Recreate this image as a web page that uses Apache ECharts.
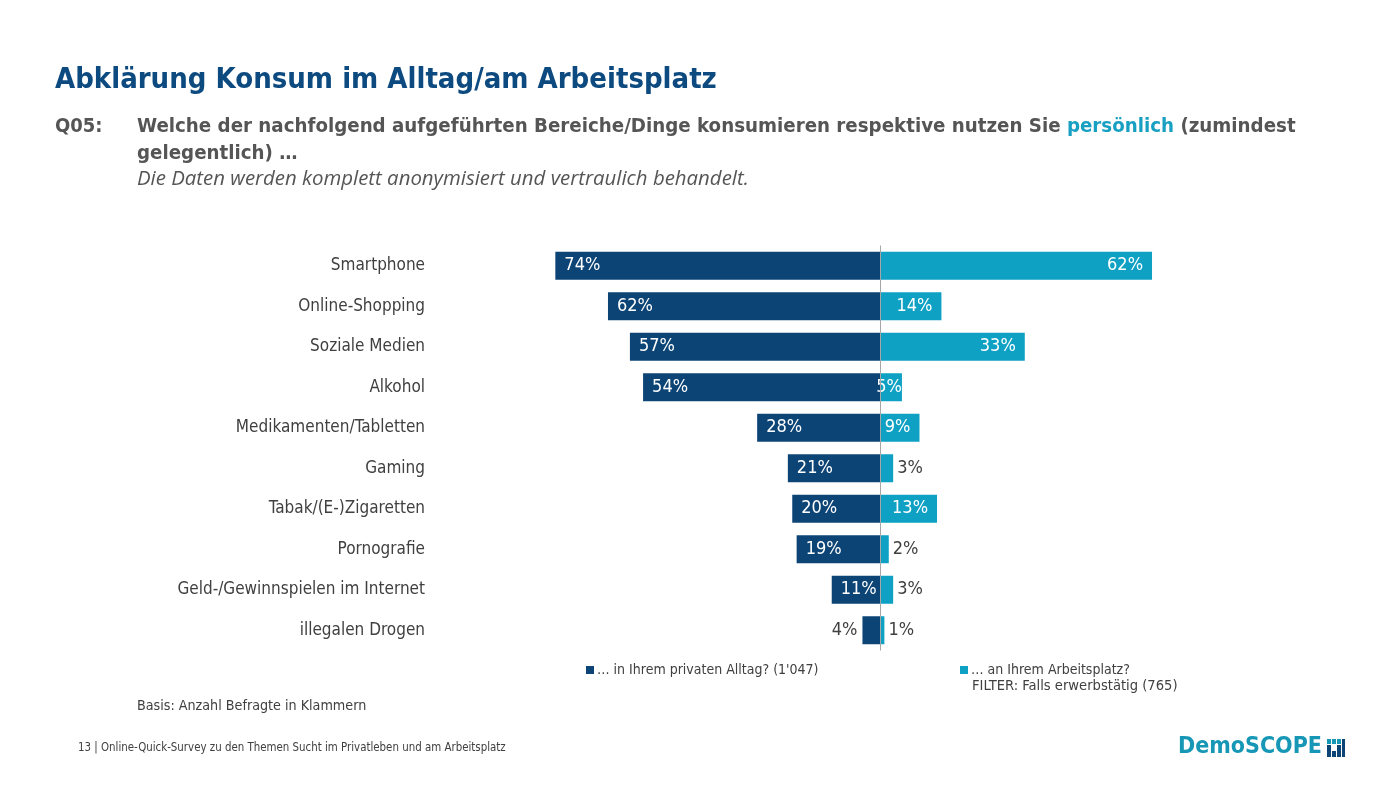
<!DOCTYPE html>
<html lang="de">
<head>
    <meta charset="UTF-8">
    <title>Abklärung Konsum im Alltag/am Arbeitsplatz</title>
    <script src="https://cdn.jsdelivr.net/npm/echarts@6/dist/echarts.min.js"></script>
    <style>
        html, body { margin: 0; padding: 0; background: #fff; }
        #chart { width: 1400px; height: 787px; }
    </style>
</head>
<body>
<div id="chart"></div>
<script type="text/javascript">

// Daten
var kategorien = ['Smartphone', 'Online-Shopping', 'Soziale Medien', 'Alkohol', 'Medikamenten/Tabletten',
    'Gaming', 'Tabak/(E-)Zigaretten', 'Pornografie', 'Geld-/Gewinnspielen im Internet', 'illegalen Drogen'];
var privat = [74, 62, 57, 54, 28, 21, 20, 19, 11, 4];
var arbeit = [62, 14, 33, 5, 9, 3, 13, 2, 3, 1];

var namePrivat = '… in Ihrem privaten Alltag? (1\'047)';
var nameArbeit = '… an Ihrem Arbeitsplatz?';

var dunkel = '#0c4475';
var hell = '#0fa1c4';
var grau = '#404040';
var font = 'DejaVu Sans Condensed';

var myChart = echarts.init(document.getElementById('chart'));

// linke Seite: negative Werte, Beschriftung innen links
var privatData = privat.map(function (v) {
    var innen = v >= 10;
    return {
        value: -v,
        label: {
            position: innen ? 'insideLeft' : 'left',
            distance: innen ? 9 : 5,
            color: innen ? '#fff' : grau
        }
    };
});

// rechte Seite
var arbeitData = arbeit.map(function (v) {
    var innen = v >= 5;
    return {
        value: v,
        label: {
            position: innen ? 'insideRight' : 'right',
            distance: innen ? (v < 8 ? 0 : 9) : 4,
            color: innen ? '#fff' : grau
        }
    };
});

var option = {
    backgroundColor: '#fff',
    animation: false,
    textStyle: { fontFamily: font },
    grid: { left: 529, width: 702, top: 245.5, height: 405 },
    xAxis: {
        type: 'value',
        min: -80,
        max: 80,
        axisLine: { show: false },
        axisTick: { show: false },
        axisLabel: { show: false },
        splitLine: { show: false }
    },
    yAxis: {
        type: 'category',
        inverse: true,
        data: kategorien,
        axisLine: { show: false, onZero: false },
        axisTick: { show: false },
        axisLabel: {
            margin: 104,
            fontFamily: font,
            fontSize: 17,
            color: grau
        }
    },
    legend: [
        {
            data: [namePrivat],
            left: 581, top: 658,
            icon: 'rect', itemWidth: 8, itemHeight: 8, itemGap: 4,
            textStyle: { fontFamily: font, fontSize: 14, color: grau, padding: [0, 0, 0, -2] }
        },
        {
            data: [nameArbeit],
            left: 955, top: 658,
            icon: 'rect', itemWidth: 8, itemHeight: 8,
            textStyle: { fontFamily: font, fontSize: 14, color: grau, padding: [0, 0, 0, -2] }
        }
    ],
    series: [
        {
            name: namePrivat,
            type: 'bar',
            data: privatData,
            barWidth: 28,
            barGap: '-100%',
            itemStyle: { color: dunkel },
            label: {
                show: true,
                fontFamily: font,
                fontSize: 18,
                formatter: function (p) { return Math.abs(p.value) + '%'; }
            }
        },
        {
            name: nameArbeit,
            type: 'bar',
            data: arbeitData,
            barWidth: 28,
            barGap: '-100%',
            itemStyle: { color: hell },
            label: {
                show: true,
                fontFamily: font,
                fontSize: 18,
                formatter: '{c}%'
            },
            markLine: {
                silent: true,
                symbol: 'none',
                label: { show: false },
                lineStyle: { color: '#a6a6a6', width: 1, type: 'solid' },
                data: [{ xAxis: 0 }]
            }
        }
    ],
    graphic: [
        {
            type: 'text', left: 55, top: 66,
            style: {
                text: 'Abklärung Konsum im Alltag/am Arbeitsplatz',
                font: 'bold 29px "DejaVu Sans Condensed"', fill: '#0d4a80'
            }
        },
        {
            type: 'text', left: 55, top: 117,
            style: { text: 'Q05:', font: 'bold 20px "DejaVu Sans Condensed"', fill: '#555' }
        },
        {
            type: 'text', left: 137, top: 117,
            style: {
                text: '{a|Welche der nachfolgend aufgeführten Bereiche/Dinge konsumieren respektive nutzen Sie }{b|persönlich}{a| (zumindest}',
                rich: {
                    a: { font: 'bold 20.3px "DejaVu Sans Condensed"', fill: '#555' },
                    b: { font: 'bold 20.3px "DejaVu Sans Condensed"', fill: '#18a0c2' }
                }
            }
        },
        {
            type: 'text', left: 137, top: 144,
            style: { text: 'gelegentlich) …', font: 'bold 20.3px "DejaVu Sans Condensed"', fill: '#555' }
        },
        {
            type: 'text', left: 137, top: 169,
            style: {
                text: 'Die Daten werden komplett anonymisiert und vertraulich behandelt.',
                font: 'italic 20.4px "Open Sans"', fill: '#555'
            }
        },
        {
            type: 'text', left: 972, top: 679,
            style: { text: 'FILTER: Falls erwerbstätig (765)', font: '14.6px "DejaVu Sans Condensed"', fill: grau }
        },
        {
            type: 'text', left: 137, top: 699,
            style: { text: 'Basis: Anzahl Befragte in Klammern', font: '14.2px "DejaVu Sans Condensed"', fill: grau }
        },
        {
            type: 'text', left: 78, top: 743,
            style: {
                text: '13 | Online-Quick-Survey zu den Themen Sucht im Privatleben und am Arbeitsplatz',
                font: '11.4px "DejaVu Sans Condensed"', fill: grau
            }
        },
        {
            type: 'text', left: 1178, top: 736,
            style: { text: 'DemoSCOPE', font: 'bold 23px "DejaVu Sans Condensed"', fill: '#1597b5' }
        },
        // kleines Logo-Symbol
        { type: 'rect', left: 1327, top: 739, shape: { width: 4, height: 5 }, style: { fill: '#1597b5' } },
        { type: 'rect', left: 1332, top: 739, shape: { width: 4, height: 5 }, style: { fill: '#1597b5' } },
        { type: 'rect', left: 1337, top: 739, shape: { width: 4, height: 5 }, style: { fill: '#1597b5' } },
        { type: 'rect', left: 1327, top: 745, shape: { width: 4, height: 12 }, style: { fill: '#0c4475' } },
        { type: 'rect', left: 1332, top: 751, shape: { width: 4, height: 6 }, style: { fill: '#0c4475' } },
        { type: 'rect', left: 1337, top: 745, shape: { width: 4, height: 12 }, style: { fill: '#0c4475' } },
        { type: 'rect', left: 1342, top: 739, shape: { width: 3, height: 18 }, style: { fill: '#0c4475' } }
    ]
};

myChart.setOption(option);

</script>
</body>
</html>
